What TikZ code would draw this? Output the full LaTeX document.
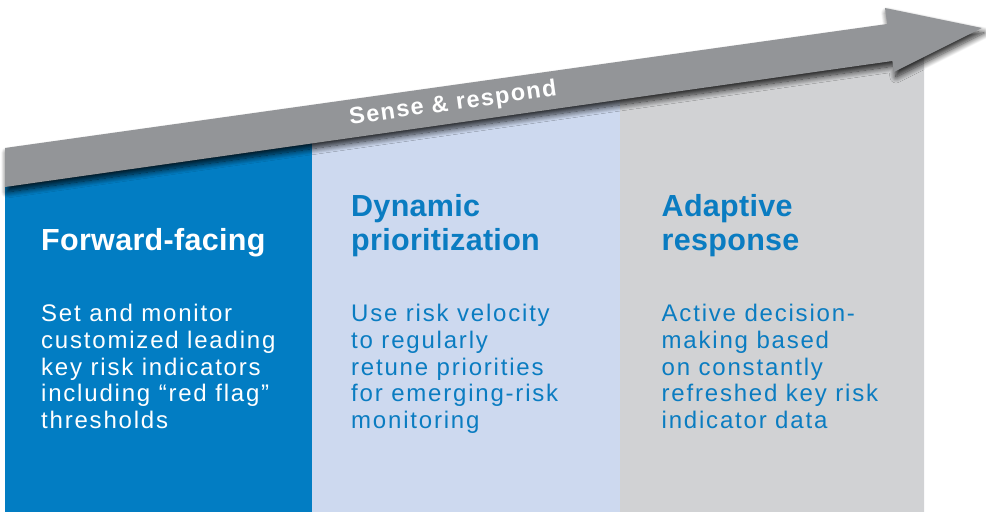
\documentclass[tikz,border=0pt]{standalone}
\usepackage{fontspec}
\setmainfont{Liberation Sans}
\newfontfamily\bodyfont[LetterSpace=7.5]{Liberation Sans}
\newfontfamily\headfont[LetterSpace=1]{Liberation Sans}
\newfontfamily\bandfont[LetterSpace=6]{Liberation Sans}
\usetikzlibrary{shadows.blur}
\definecolor{colblue}{HTML}{027DC3}
\definecolor{collight}{HTML}{CDD9EF}
\definecolor{colgrey}{HTML}{D1D2D4}
\definecolor{arrowgrey}{HTML}{939598}
\definecolor{textblue}{HTML}{0A7CC1}
\tikzset{
  headtext/.style={anchor=base west, inner sep=0pt, align=left,
    font=\headfont\bfseries\fontsize{30.5}{34}\selectfont},
  bodytext/.style={anchor=base west, inner sep=0pt, align=left,
    font=\bodyfont\fontsize{24}{26.67}\selectfont},
  bandtext/.style={inner sep=0pt, text=white, rotate=8,
    font=\bandfont\bfseries\fontsize{23.5}{23.5}\selectfont},
  arrowshape/.style={fill=arrowgrey, draw=none,
    blur shadow={shadow xshift=2pt, shadow yshift=-5pt, shadow opacity=85,
      shadow blur radius=6pt, shadow blur steps=12}}
}
\begin{document}
\begin{tikzpicture}[x=1pt,y=-1pt]
\useasboundingbox (0,0) rectangle (986,518);
% columns
\fill[colblue]  (5,512) -- (5,182) -- (312,138.6) -- (312,512) -- cycle;
\fill[collight] (312,512) -- (312,138.6) -- (620,95.2) -- (620,512) -- cycle;
\fill[colgrey]  (620,512) -- (620,95.2) -- (924,52.2) -- (924,512) -- cycle;
% arrow
\path[arrowshape] (5,148) -- (887.2,24) -- (885,8) -- (982,28) -- (894,72)
   -- (892.4,61) -- (5,187) -- cycle;
\node[bandtext] (band) at (453,104) {Sense \& respond};
% titles (anchor = baseline of last line)
\node[headtext, text=white] (h1) at (41,251) {Forward-facing};
\node[headtext, text=textblue] (h2) at (351,251) {Dynamic\\prioritization};
\node[headtext, text=textblue] (h3) at (661.5,251) {Adaptive\\response};
% body (anchor = baseline of last line)
\node[bodytext, text=white] (b1) at (41,428.4)
  {Set and monitor\\customized leading\\key risk indicators\\including “red flag”\\thresholds};
\node[bodytext, text=textblue] (b2) at (351,428.4)
  {Use risk velocity\\to regularly\\retune priorities\\for emerging-risk\\monitoring};
\node[bodytext, text=textblue] (b3) at (661.5,428.4)
  {Active decision-\\making based\\on constantly\\refreshed key risk\\indicator data};
\end{tikzpicture}
\end{document}
